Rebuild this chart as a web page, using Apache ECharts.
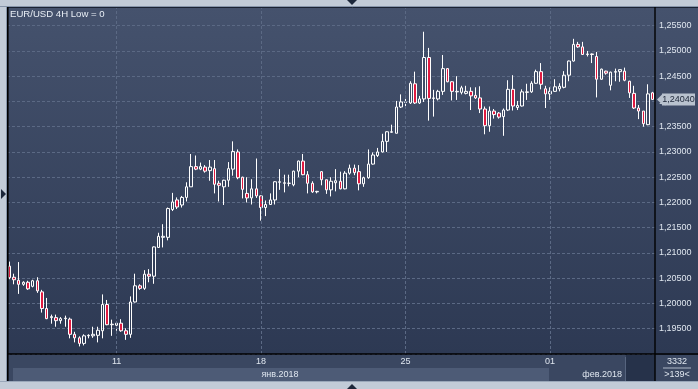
<!DOCTYPE html>
<html><head><meta charset="utf-8">
<script src="https://cdn.jsdelivr.net/npm/echarts@6/dist/echarts.min.js"></script>
<style>html,body{margin:0;padding:0;background:#c2cbd7}#c{width:698px;height:389px}</style>
</head><body><div id="c"></div><script>
const H6 = ['00:00','04:00','08:00','12:00','16:00','20:00'];
const SUN = ['20:00'];
const sessions = [
 ['2018-01-05',['08:00','12:00','16:00','20:00']],['2018-01-07',SUN],
 ['2018-01-08',H6],['2018-01-09',H6],['2018-01-10',H6],['2018-01-11',H6],['2018-01-12',H6],['2018-01-14',SUN],
 ['2018-01-15',H6],['2018-01-16',H6],['2018-01-17',H6],['2018-01-18',H6],['2018-01-19',H6],['2018-01-21',SUN],
 ['2018-01-22',H6],['2018-01-23',H6],['2018-01-24',H6],['2018-01-25',H6],['2018-01-26',H6],['2018-01-28',SUN],
 ['2018-01-29',H6],['2018-01-30',H6],['2018-01-31',H6],['2018-02-01',H6],['2018-02-02',H6],['2018-02-04',SUN],
 ['2018-02-05',H6],['2018-02-06',['00:00','04:00','08:00','12:00']]
];
const dayTicks = ['2018-01-11 00:00','2018-01-18 00:00','2018-01-25 00:00','2018-02-01 00:00'];
const monthLabels = ['янв.2018','фев.2018'];

const opens = [1.2074,1.2052,1.2046,1.2038,1.2042,1.2034,1.2045,1.2023,1.1990,1.1972,
1.1972,1.1966,1.1970,1.1969,1.1939,1.1932,1.1921,1.1936,1.1936,1.1937,
1.1946,1.1998,1.1958,1.1957,1.1961,1.1946,1.1939,1.2003,1.2035,1.2030,
1.2058,1.2054,1.2111,1.2131,1.2131,1.2186,1.2205,1.2195,1.2210,1.2231,
1.2271,1.2266,1.2270,1.2263,1.2267,1.2238,1.2231,1.2244,1.2266,1.2300,
1.2250,1.2218,1.2209,1.2227,1.2213,1.2190,1.2196,1.2205,1.2240,1.2238,
1.2238,1.2235,1.2262,1.2282,1.2255,1.2238,1.2221,1.2261,1.2245,1.2225,
1.2239,1.2242,1.2227,1.2258,1.2268,1.2261,1.2237,1.2249,1.2276,1.2293,
1.2300,1.2321,1.2339,1.2337,1.2389,1.2398,1.2397,1.2435,1.2397,1.2405,
1.2487,1.2406,1.2405,1.2420,1.2465,1.2439,1.2419,1.2418,1.2416,1.2420,
1.2412,1.2407,1.2385,1.2352,1.2381,1.2377,1.2370,1.2383,1.2424,1.2388,
1.2391,1.2418,1.2419,1.2436,1.2459,1.2425,1.2415,1.2420,1.2425,1.2428,
1.2452,1.2480,1.2513,1.2508,1.2493,1.2494,1.2489,1.2444,1.2460,1.2432,
1.2458,1.2459,1.2460,1.2440,1.2416,1.2387,1.2381,1.2354,1.2417];
const closes = [1.2051,1.2047,1.2038,1.2042,1.2029,1.2045,1.2025,1.1990,1.1970,1.1974,
1.1966,1.1970,1.1971,1.1939,1.1932,1.1921,1.1936,1.1937,1.1939,1.1947,
1.1998,1.1958,1.1959,1.1961,1.1946,1.1939,1.2003,1.2035,1.2030,1.2058,
1.2054,1.2112,1.2133,1.2133,1.2188,1.2201,1.2191,1.2210,1.2231,1.2271,
1.2266,1.2271,1.2262,1.2270,1.2236,1.2234,1.2244,1.2267,1.2301,1.2249,
1.2226,1.2209,1.2227,1.2213,1.2190,1.2196,1.2205,1.2241,1.2241,1.2239,
1.2238,1.2262,1.2282,1.2255,1.2238,1.2221,1.2222,1.2245,1.2225,1.2242,
1.2243,1.2227,1.2258,1.2268,1.2259,1.2237,1.2249,1.2276,1.2294,1.2300,
1.2321,1.2340,1.2340,1.2389,1.2399,1.2399,1.2436,1.2397,1.2405,1.2487,
1.2406,1.2407,1.2420,1.2465,1.2439,1.2420,1.2420,1.2427,1.2420,1.2411,
1.2407,1.2385,1.2352,1.2381,1.2374,1.2369,1.2383,1.2424,1.2391,1.2392,
1.2419,1.2419,1.2436,1.2459,1.2434,1.2415,1.2420,1.2429,1.2430,1.2452,
1.2480,1.2513,1.2508,1.2493,1.2494,1.2493,1.2444,1.2464,1.2456,1.2458,
1.2459,1.2463,1.2442,1.2417,1.2387,1.2381,1.2356,1.2415,1.2404];
const lows = [1.2048,1.2038,1.2019,1.2035,1.2027,1.2032,1.2021,1.1982,1.1969,1.1960,
1.1954,1.1960,1.1954,1.1931,1.1923,1.1915,1.1917,1.1931,1.1932,1.1923,
1.1931,1.1957,1.1936,1.1946,1.1944,1.1928,1.1932,1.2002,1.2027,1.2027,
1.2042,1.2039,1.2110,1.2111,1.2125,1.2183,1.2187,1.2190,1.2202,1.2231,
1.2264,1.2264,1.2259,1.2243,1.2218,1.2202,1.2195,1.2231,1.2253,1.2246,
1.2208,1.2200,1.2196,1.2209,1.2164,1.2173,1.2195,1.2196,1.2225,1.2220,
1.2232,1.2232,1.2250,1.2254,1.2218,1.2219,1.2218,1.2234,1.2217,1.2212,
1.2222,1.2226,1.2226,1.2255,1.2254,1.2224,1.2231,1.2247,1.2275,1.2290,
1.2299,1.2300,1.2338,1.2337,1.2387,1.2385,1.2395,1.2395,1.2395,1.2399,
1.2362,1.2370,1.2402,1.2413,1.2438,1.2402,1.2403,1.2414,1.2414,1.2383,
1.2405,1.2377,1.2335,1.2340,1.2366,1.2366,1.2332,1.2381,1.2382,1.2383,
1.2390,1.2403,1.2417,1.2435,1.2424,1.2387,1.2403,1.2419,1.2420,1.2426,
1.2440,1.2479,1.2506,1.2492,1.2489,1.2476,1.2408,1.2443,1.2453,1.2422,
1.2440,1.2439,1.2440,1.2407,1.2385,1.2365,1.2350,1.2353,1.2403];
const highs = [1.2083,1.2059,1.2082,1.2044,1.2045,1.2047,1.2052,1.2027,1.2011,1.1978,
1.1978,1.1973,1.1976,1.1972,1.1944,1.1935,1.1939,1.1939,1.1954,1.1954,
1.2018,1.2007,1.1968,1.1961,1.1969,1.1951,1.2014,1.2059,1.2038,1.2066,
1.2068,1.2113,1.2140,1.2157,1.2190,1.2219,1.2210,1.2213,1.2240,1.2296,
1.2293,1.2279,1.2274,1.2284,1.2284,1.2243,1.2245,1.2280,1.2321,1.2305,
1.2251,1.2250,1.2246,1.2287,1.2214,1.2204,1.2218,1.2242,1.2266,1.2255,
1.2255,1.2263,1.2283,1.2296,1.2262,1.2242,1.2223,1.2262,1.2245,1.2250,
1.2266,1.2261,1.2262,1.2275,1.2275,1.2274,1.2251,1.2305,1.2299,1.2308,
1.2336,1.2341,1.2354,1.2401,1.2414,1.2411,1.2440,1.2459,1.2411,1.2538,
1.2506,1.2423,1.2423,1.2492,1.2466,1.2440,1.2450,1.2431,1.2431,1.2428,
1.2428,1.2430,1.2390,1.2390,1.2385,1.2379,1.2386,1.2442,1.2452,1.2401,
1.2424,1.2435,1.2440,1.2463,1.2476,1.2431,1.2428,1.2444,1.2436,1.2460,
1.2481,1.2524,1.2518,1.2518,1.2500,1.2495,1.2498,1.2465,1.2461,1.2459,
1.2465,1.2463,1.2467,1.2441,1.2431,1.2393,1.2381,1.2434,1.2419];

const cats = [];
sessions.forEach(([d, hs]) => hs.forEach(h => cats.push(d + ' ' + h)));
const ohlc = opens.map((o, i) => [o, closes[i], lows[i], highs[i]]);

const TXT = '#dfe6ef';
const GRIDC = '#5b6984';
const FONT = '"Liberation Sans", Arial, sans-serif';

const chart = echarts.init(document.getElementById('c'), null, {renderer: 'canvas'});
const bgGrad = new echarts.graphic.LinearGradient(0, 0, 0, 1, [
  {offset: 0, color: '#45526d'}, {offset: 1, color: '#2b3751'}]);

chart.setOption({
  animation: false,
  backgroundColor: '#c2cbd7',
  textStyle: {fontFamily: FONT},
  title: {text: 'EUR/USD 4H Low = 0', left: 10, top: 9.5, padding: 0,
    textStyle: {color: '#e8eef5', fontSize: 9.6, fontWeight: 'normal', fontFamily: FONT}},
  grid: {left: 7, right: 43, top: 7, bottom: 35},
  xAxis: [{
    type: 'category', data: cats, boundaryGap: true,
    axisLine: {show: false}, axisTick: {show: false}, splitLine: {show: false},
    axisLabel: {interval: (i, v) => dayTicks.includes(v), formatter: v => v.slice(8, 10),
      color: TXT, fontSize: 9, margin: 3}
  }],
  yAxis: [{
    type: 'value', position: 'right', min: 1.19, max: 1.2587, interval: 0.005,
    axisLine: {show: false}, axisTick: {show: false},
    splitLine: {lineStyle: {color: GRIDC, type: [3, 2], width: 1}},
    axisLabel: {color: TXT, fontSize: 9, margin: 4, showMinLabel: false, showMaxLabel: false,
      formatter: v => v.toFixed(5).replace('.', ',')}
  }],
  graphic: {elements: [
    {type: 'rect', z: -10, silent: true, shape: {x: 7, y: 7, width: 691, height: 374}, style: {fill: bgGrad}},
    {type: 'rect', z: -9, silent: true, shape: {x: 8, y: 355, width: 690, height: 26}, style: {fill: '#3a4761'}},
    {type: 'rect', z: -8, silent: true, shape: {x: 13, y: 368, width: 536, height: 13}, style: {fill: '#4d5b76'}},
    {type: 'rect', z: -8, silent: true, shape: {x: 626, y: 355, width: 29, height: 26}, style: {fill: '#26324a'}},
    {type: 'line', z: -8, silent: true, shape: {x1: 625.5, y1: 357, x2: 625.5, y2: 381}, style: {stroke: '#56647e', lineWidth: 1}},
    {type: 'line', z: 50, silent: true, shape: {x1: 0, y1: 6.5, x2: 698, y2: 6.5}, style: {stroke: '#8795aa', lineWidth: 1}},
    {type: 'line', z: 50, silent: true, shape: {x1: 7, y1: 7.5, x2: 698, y2: 7.5}, style: {stroke: '#1a2233', lineWidth: 1}},
    {type: 'line', z: 50, silent: true, shape: {x1: 6.5, y1: 7, x2: 6.5, y2: 381}, style: {stroke: '#8795aa', lineWidth: 1}},
    {type: 'line', z: 50, silent: true, shape: {x1: 7.8, y1: 7, x2: 7.8, y2: 381}, style: {stroke: '#000000', lineWidth: 1.6}},
    {type: 'line', z: 50, silent: true, shape: {x1: 655, y1: 7, x2: 655, y2: 381}, style: {stroke: '#000000', lineWidth: 1.4}},
    {type: 'line', z: 50, silent: true, shape: {x1: 7, y1: 354, x2: 698, y2: 354}, style: {stroke: '#000000', lineWidth: 1.4}},
    {type: 'line', z: 50, silent: true, shape: {x1: 0, y1: 381.5, x2: 698, y2: 381.5}, style: {stroke: '#9aa7b9', lineWidth: 1}},
    {type: 'polygon', z: 50, silent: true, shape: {points: [[347, 0], [357, 0], [352, 5]]}, style: {fill: '#1c273a'}},
    {type: 'polygon', z: 50, silent: true, shape: {points: [[347, 389], [357, 389], [352, 384]]}, style: {fill: '#1c273a'}},
    {type: 'polygon', z: 50, silent: true, shape: {points: [[1, 189], [1, 199], [6, 194]]}, style: {fill: '#1c273a'}},
    {type: 'text', z: 50, silent: true, x: 677, y: 362, style: {text: '3332', fill: TXT, font: '9px ' + FONT, align: 'center', verticalAlign: 'middle'}},
    {type: 'line', z: 50, silent: true, shape: {x1: 663, y1: 368, x2: 691, y2: 368}, style: {stroke: '#aeb9c8', lineWidth: 1}},
    {type: 'text', z: 50, silent: true, x: 677, y: 374.5, style: {text: '>139<', fill: TXT, font: '9px ' + FONT, align: 'center', verticalAlign: 'middle'}},
    {type: 'text', z: 50, silent: true, x: 280, y: 374.5, style: {text: monthLabels[0], fill: TXT, font: '9px ' + FONT, align: 'center', verticalAlign: 'middle'}},
    {type: 'text', z: 50, silent: true, x: 622, y: 374.5, style: {text: monthLabels[1], fill: TXT, font: '9px ' + FONT, align: 'right', verticalAlign: 'middle'}}
  ]},
  series: [{
    type: 'candlestick', data: ohlc, barWidth: 3,
    itemStyle: {color: 'rgba(0,0,0,0)', color0: '#e01a40', borderColor: '#ffffff', borderColor0: '#ffffff',
      borderColorDoji: '#ffffff', borderWidth: 1},
    markLine: {silent: true, symbol: ['none', 'none'], animation: false, label: {show: false},
      lineStyle: {color: GRIDC, type: [3, 2], width: 1},
      data: dayTicks.map(d => ({xAxis: d}))}
  }]
});

const last = closes[closes.length - 1];
const py = Math.round(chart.convertToPixel({yAxisIndex: 0}, last)) + 0.5;
chart.setOption({graphic: {elements: [
  {type: 'polygon', id: 'pa', z: 60, silent: true, shape: {points: [[657, py], [662, py - 5], [662, py + 5]]}, style: {fill: '#b9c2ce'}},
  {type: 'rect', id: 'pr', z: 60, silent: true, shape: {x: 662, y: py - 6, width: 33, height: 12}, style: {fill: '#b9c2ce'}},
  {type: 'text', id: 'pt', z: 61, silent: true, x: 678.5, y: py, style: {text: last.toFixed(5).replace('.', ','), fill: '#1d2638', font: '9px ' + FONT, align: 'center', verticalAlign: 'middle'}}
]}});
</script></body></html>
